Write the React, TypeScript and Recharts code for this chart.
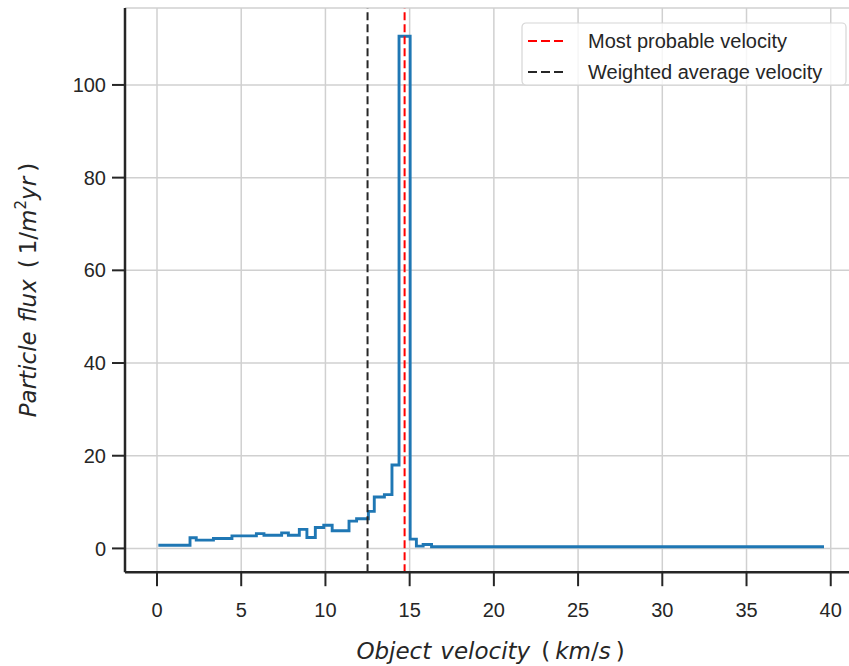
import React from 'react';
import { LineChart, Line, XAxis, YAxis, CartesianGrid, ReferenceLine, Legend } from 'recharts';

// Histogram step edges (km/s) and flux in each step (1/m^2 yr)
const velocityEdges = [0.08, 1.96, 2.33, 3.35, 4.45, 5.9, 6.35, 7.4, 7.8, 8.45, 8.9, 9.4, 9.9, 10.4, 11.4, 11.85, 12.55, 12.9, 13.5, 13.95, 14.37, 15.03, 15.4, 15.8, 16.3, 39.6];
const fluxValues = [0.7, 2.3, 1.8, 2.15, 2.7, 3.2, 2.85, 3.35, 2.85, 4.1, 2.35, 4.5, 5.0, 3.8, 5.9, 6.4, 8.0, 11.1, 11.6, 18.0, 110.5, 2.0, 0.5, 0.85, 0.35, 0.35];

const xTicks = [0, 5, 10, 15, 20, 25, 30, 35, 40];
const yTicks = [0, 20, 40, 60, 80, 100];

const mostProbableVelocity = 14.7;
const weightedAverageVelocity = 12.5;

const legendItems = [
  { label: 'Most probable velocity', color: '#ff0000' },
  { label: 'Weighted average velocity', color: '#262626' },
];

const data = velocityEdges.map((v, i) => ({ velocity: v, flux: fluxValues[i] }));

const TEXT = '#262626';
const SANS = '"Liberation Sans", Arial, sans-serif';
const MATH = '"DejaVu Sans", sans-serif';

const XLabel = (props: any) => {
  const vb = props.viewBox || { x: 125, width: 731 };
  const cx = vb.x + vb.width / 2;
  return (
    <text x={cx} y={659} textAnchor="middle" fontFamily={MATH} fontSize={23} fill={TEXT} style={{ whiteSpace: 'pre' }}>
      <tspan fontStyle="italic">Object</tspan>
      <tspan dx={9} fontStyle="italic">velocity</tspan>
      <tspan dx={11}>(</tspan>
      <tspan dx={5} fontStyle="italic">km</tspan>
      <tspan>/</tspan>
      <tspan fontStyle="italic">s</tspan>
      <tspan dx={5}>)</tspan>
    </text>
  );
};

const YLabel = (props: any) => {
  const vb = props.viewBox || { y: 9.5, height: 562.7 };
  const cy = vb.y + vb.height / 2;
  const cx = 28;
  return (
    <text
      x={cx}
      y={cy}
      dy="0.35em"
      transform={`rotate(-90 ${cx} ${cy})`}
      textAnchor="middle"
      fontFamily={MATH}
      fontSize={23}
      fill={TEXT}
    >
      <tspan fontStyle="italic">Particle</tspan>
      <tspan dx={9} fontStyle="italic">flux</tspan>
      <tspan dx={11}>(</tspan>
      <tspan dx={5}>1/</tspan>
      <tspan fontStyle="italic">m</tspan>
      <tspan fontSize={15} dy={-10}>2</tspan>
      <tspan fontStyle="italic" dy={10}>yr</tspan>
      <tspan dx={5}>)</tspan>
    </text>
  );
};

const LegendBox = () => (
  <svg width={326} height={64} style={{ display: 'block' }}>
    <rect x={1} y={1} width={324} height={62} rx={4} fill="#ffffff" fillOpacity={0.8} stroke="#d6d6d6" strokeWidth={1.2} />
    {legendItems.map((it, i) => (
      <g key={it.label}>
        <line x1={7} x2={46} y1={19 + 31 * i} y2={19 + 31 * i} stroke={it.color} strokeWidth={2.2} strokeDasharray="9 4" />
        <text x={67} y={19 + 31 * i} dy="0.35em" fontFamily={SANS} fontSize={20} fill={TEXT}>
          {it.label}
        </text>
      </g>
    ))}
  </svg>
);

export default function App() {
  return (
    <div style={{ position: 'absolute', left: 0, top: 0, width: 849, height: 666, overflow: 'hidden', background: '#ffffff' }}>
      <LineChart
        width={861}
        height={666}
        data={data}
        margin={{ top: 8, right: 5, left: 45, bottom: 13.8 }}
      >
        <CartesianGrid stroke="#d0d0d0" strokeWidth={1.5} />
        <XAxis
          type="number"
          dataKey="velocity"
          domain={[-1.9, 41.5]}
          ticks={xTicks}
          interval={0}
          allowDataOverflow
          height={80}
          tickSize={14}
          tickMargin={17}
          axisLine={{ stroke: TEXT, strokeWidth: 2.5 }}
          tickLine={{ stroke: TEXT, strokeWidth: 2 }}
          tick={{ fill: TEXT, fontSize: 20, fontFamily: SANS }}
          label={<XLabel />}
        />
        <YAxis
          type="number"
          domain={[-5.13, 116.6]}
          ticks={yTicks}
          interval={0}
          allowDataOverflow
          width={80}
          tickSize={13}
          tickMargin={6}
          axisLine={{ stroke: TEXT, strokeWidth: 2.5 }}
          tickLine={{ stroke: TEXT, strokeWidth: 2 }}
          tick={{ fill: TEXT, fontSize: 20, fontFamily: SANS }}
          label={<YLabel />}
        />
        <Line
          type="stepAfter"
          dataKey="flux"
          stroke="#1f77b4"
          strokeWidth={2.9}
          dot={false}
          activeDot={false}
          isAnimationActive={false}
        />
        <ReferenceLine x={mostProbableVelocity} stroke="#ff0000" strokeWidth={2} strokeDasharray="8 4" />
        <ReferenceLine x={weightedAverageVelocity} stroke="#262626" strokeWidth={2} strokeDasharray="8 4" />
        <Legend
          layout="vertical"
          align="center"
          verticalAlign="middle"
          wrapperStyle={{ left: 521, top: 22, width: 326, height: 64 }}
          content={() => <LegendBox />}
        />
      </LineChart>
    </div>
  );
}
